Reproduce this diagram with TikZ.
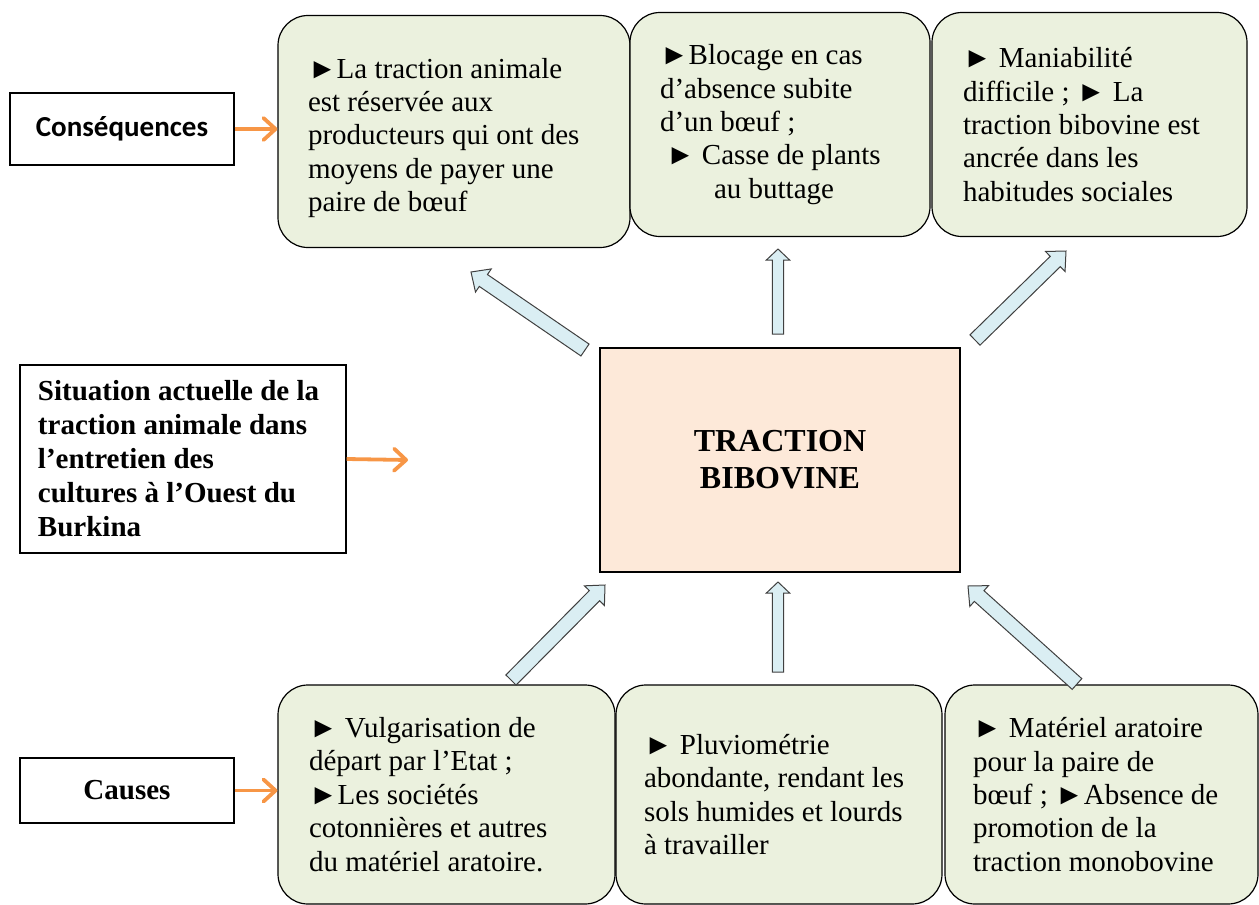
\documentclass[tikz,border=0pt]{standalone}
\usepackage{fontspec}
\setmainfont{Liberation Serif}
\newfontfamily\calibri{Carlito}
\usetikzlibrary{arrows.meta,calc}

\definecolor{boxgreen}{HTML}{EBF1DE}
\definecolor{boxpeach}{HTML}{FDE9D9}
\definecolor{arrowblue}{HTML}{DAEEF3}
\definecolor{arroworange}{HTML}{F79646}

\tikzset{
  bubble/.style={draw, line width=0.6pt, fill=boxgreen, rounded corners=15pt,
    align=flush left, inner ysep=0pt, font=\fontsize{14.5}{16.7}\selectfont},
  tagbox/.style={draw, line width=0.6pt, align=center, inner sep=0pt},
  centrebox/.style={draw, line width=0.6pt, fill=boxpeach, align=center,
    minimum width=180pt, minimum height=112pt, font=\bfseries\fontsize{16}{18.5}\selectfont},
  orangearrow/.style={draw=arroworange, line width=1.9pt,
    -{Straight Barb[length=6pt,width=11pt,round]}},
  bluearrow/.style={draw=black!75, line width=0.5pt, fill=arrowblue}
}

% #1 tail, #2 tip, #3 shaft half width, #4 head length, #5 head half width
\newcommand{\blockarrow}[5]{%
  \coordinate (hb) at ($(#2)!#4!(#1)$);
  \draw[bluearrow] ($(#1)!#3!90:(#2)$) -- ($(hb)!#3!90:(#2)$) -- ($(hb)!#5!90:(#2)$)
    -- (#2) -- ($(hb)!#5!-90:(#2)$) -- ($(hb)!#3!-90:(#2)$) -- ($(#1)!#3!-90:(#2)$) -- cycle;
}

\begin{document}
\begin{tikzpicture}[x=0.5pt,y=-0.5pt]
\useasboundingbox (0,0) rectangle (1259,905);

\node (cons1) [bubble, inner xsep=15pt, text width=146pt, minimum height=116pt] at (454,131.5)
  {\rule{0pt}{16.5pt}►La traction animale\\ est réservée aux\\ producteurs qui ont des\\ moyens de payer une\\ paire de bœuf};
\node (cons2) [bubble, inner xsep=15pt, text width=120pt, minimum height=112pt] at (780,124.5)
  {►Blocage en cas\\ d’absence subite\\ d’un bœuf ;\\ \hspace*{3pt}► Casse de plants\\ \hspace*{27pt}au buttage};
\node (cons3) [bubble, inner xsep=15.5pt, text width=126.5pt, minimum height=112pt] at (1089.5,124.5)
  {► Maniabilité\\ difficile ; ► La\\ traction bibovine est\\ ancrée dans les\\ habitudes sociales};

\node (cause1) [bubble, inner xsep=15.5pt, text width=137.5pt, minimum height=109.5pt] at (446.5,794.5)
  {► Vulgarisation de\\ départ par l’Etat ;\\ ►Les sociétés\\ cotonnières et autres\\ du matériel aratoire.};
\node (cause2) [bubble, inner xsep=14pt, text width=135pt, minimum height=109.5pt] at (779,794.5)
  {► Pluviométrie\\ abondante, rendant les\\ sols humides et lourds\\ à travailler};
\node (cause3) [bubble, inner xsep=14pt, text width=128.5pt, minimum height=109.5pt] at (1101.5,794.5)
  {► Matériel aratoire\\ pour la paire de\\ bœuf ; ►Absence de\\ promotion de la\\ traction monobovine};

\node (trac) [centrebox] at (780,460) {TRACTION\\ BIBOVINE};

\node (conseq) [tagbox, minimum width=112pt, minimum height=36pt,
  font=\calibri\bfseries\fontsize{14.5}{17}\selectfont] at (122,129) {Conséquences};
\node (situ) [tagbox, align=flush left, inner xsep=9pt, text width=145pt, minimum height=94pt,
  font=\bfseries\fontsize{14.5}{17}\selectfont] at (183,459)
  {Situation actuelle de la\\ traction animale dans\\ l’entretien des\\ cultures à l’Ouest du\\ Burkina};
\node (causes) [tagbox, minimum width=107pt, minimum height=32.5pt,
  font=\bfseries\fontsize{14.5}{17}\selectfont] at (127,790.5) {Causes};

\coordinate (situ-tip) at (408,460);
\draw[orangearrow] (conseq.east) -- (conseq.east -| cons1.west);
\draw[orangearrow] (situ.east) -- (situ-tip);
\draw[orangearrow] (causes.east) -- (causes.east -| cause1.west);

\coordinate (tl-tail) at (585,350);  \coordinate (tl-tip) at (471,272);
\coordinate (tm-tail) at (778,334);  \coordinate (tm-tip) at (778,249);
\coordinate (tr-tail) at (975,340);  \coordinate (tr-tip) at (1066,251);
\coordinate (bl-tail) at (511,680);  \coordinate (bl-tip) at (605,585);
\coordinate (bm-tail) at (778,672);  \coordinate (bm-tip) at (778,582);
\coordinate (br-tail) at (1077,684); \coordinate (br-tip) at (968,586);

\blockarrow{tl-tail}{tl-tip}{3.6pt}{7.5pt}{7pt}
\blockarrow{tm-tail}{tm-tip}{2.8pt}{5.5pt}{5.8pt}
\blockarrow{tr-tail}{tr-tip}{3.6pt}{7.5pt}{7pt}
\blockarrow{bl-tail}{bl-tip}{3.6pt}{7.5pt}{7pt}
\blockarrow{bm-tail}{bm-tip}{2.8pt}{5.5pt}{5.8pt}
\blockarrow{br-tail}{br-tip}{3.6pt}{7.5pt}{7pt}
\end{tikzpicture}
\end{document}
